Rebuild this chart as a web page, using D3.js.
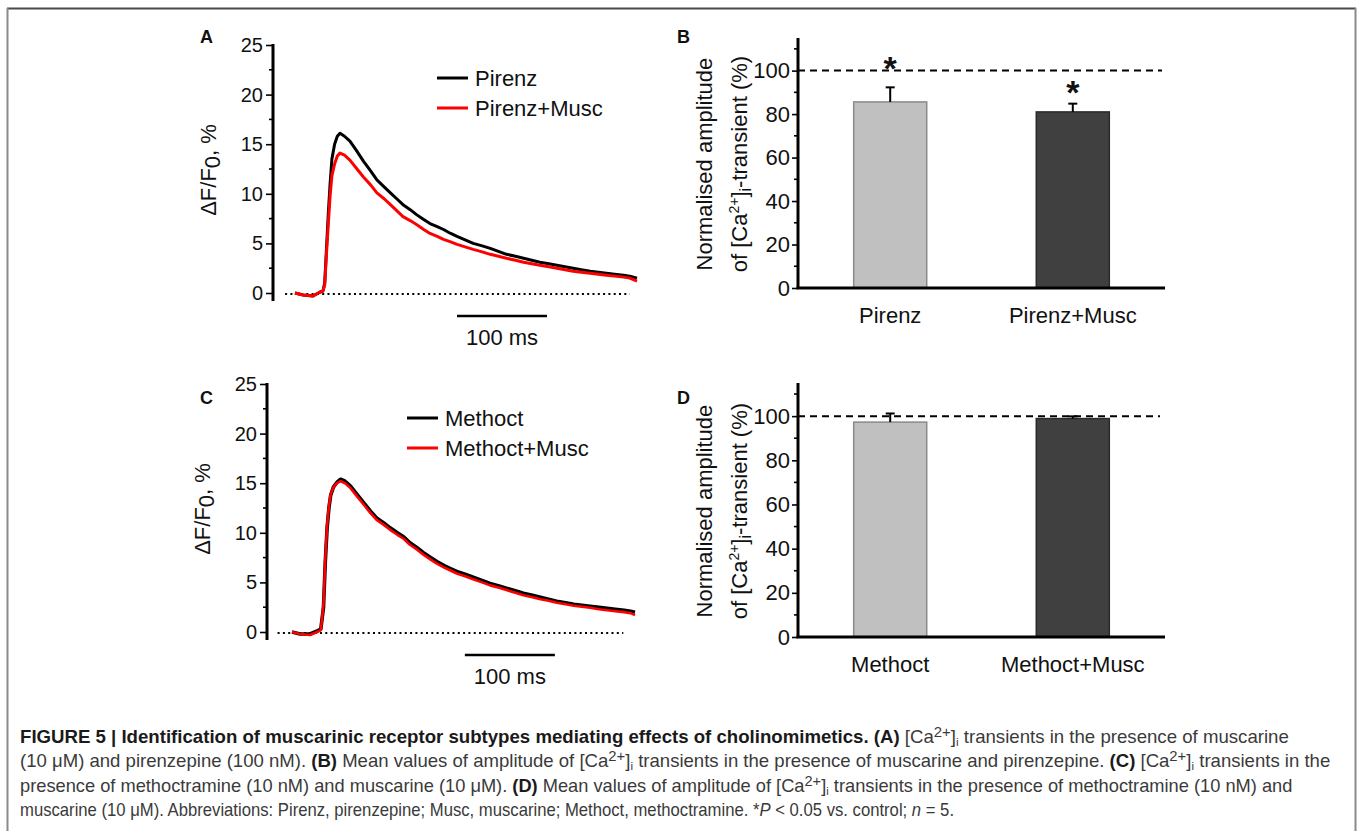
<!DOCTYPE html>
<html><head><meta charset="utf-8">
<script src="https://cdn.jsdelivr.net/npm/d3@7"></script>
<style>
body{margin:0;background:#fff}
svg{display:block}
text{font-family:"Liberation Sans",Arial,Helvetica,sans-serif}
</style>
</head><body>
<svg id="c" width="1358" height="831"></svg>
<script>
// ---------------- DATA ----------------
const traceYTicks = [0, 5, 10, 15, 20, 25];
const traceYMinor = [2.5, 7.5, 12.5, 17.5, 22.5];
const barYTicks = [0, 20, 40, 60, 80, 100];
const barYMinor = [10, 30, 50, 70, 90, 110];

// Panel A: time (ms) and ΔF/F0 (%)
const timeA = [0,9,20,28,31,33,35,37,39,41,44,47,50,55,61,68,76,84,91,99,106,113,120,128,135,143,150,158,165,173,180,189,198,208,217,226,235,245,254,263,272,282,291,300,309,318,328,337,346,355,365,372,380];
const pirenz = [0,-0.2,-0.3,0.1,0.2,1.0,4.5,8.0,11.0,13.5,15.0,15.8,16.1,15.8,15.3,14.4,13.3,12.3,11.4,10.7,10.1,9.5,8.9,8.4,7.9,7.4,7.0,6.7,6.4,6.0,5.7,5.35,5.0,4.75,4.5,4.2,3.9,3.7,3.5,3.3,3.1,2.95,2.8,2.65,2.5,2.35,2.2,2.1,2.0,1.9,1.8,1.7,1.5];
const pirenzMusc = [0,-0.2,-0.3,0.1,0.2,0.8,4.0,7.0,9.8,11.8,13.0,13.8,14.1,13.9,13.4,12.6,11.7,10.9,10.1,9.5,8.9,8.3,7.7,7.3,6.9,6.4,6.0,5.7,5.4,5.15,4.9,4.65,4.4,4.15,3.9,3.7,3.5,3.3,3.1,2.95,2.8,2.65,2.5,2.35,2.2,2.1,2.0,1.9,1.8,1.7,1.6,1.5,1.2];
const legendA = ["Pirenz", "Pirenz+Musc"];

// Panel C
const timeC = [0,9,20,28,32,35,37,39,41,43,46,50,54,59,65,72,80,87,94,102,109,117,124,131,139,146,154,161,169,176,183,193,202,211,220,230,239,248,257,267,276,285,294,304,313,322,331,341,350,359,369,376,381];
const methoct = [0,-0.2,-0.2,0.1,0.3,2.5,7.1,10.5,12.5,13.8,14.6,15.1,15.4,15.2,14.7,13.9,13.0,12.2,11.5,11.0,10.5,10.0,9.6,9.0,8.5,8.0,7.5,7.1,6.7,6.4,6.1,5.8,5.5,5.2,4.9,4.65,4.4,4.15,3.9,3.7,3.5,3.3,3.1,2.95,2.8,2.7,2.6,2.5,2.4,2.3,2.2,2.1,2.0];
const methoctMusc = [0,-0.2,-0.3,0.0,0.2,2.8,7.4,10.8,12.7,13.9,14.6,15.0,15.2,15.0,14.5,13.7,12.8,12.0,11.3,10.8,10.3,9.8,9.4,8.8,8.3,7.8,7.3,6.9,6.5,6.2,5.9,5.6,5.3,5.0,4.7,4.45,4.2,3.95,3.7,3.5,3.3,3.15,2.95,2.8,2.65,2.55,2.45,2.3,2.2,2.1,2.0,1.9,1.7];
const legendC = ["Methoct", "Methoct+Musc"];

// Panel B
const catsB = ["Pirenz", "Pirenz+Musc"];
const meanB = [85.6, 81.0];
const errB = [6.7, 3.8];
const sigB = [true, true];
const sigLevelB = [104.6, 93.5];

// Panel D
const catsD = ["Methoct", "Methoct+Musc"];
const meanD = [97.3, 98.9];
const errD = [3.9, 1.0];

const controlLevel = 100;
const scaleBarMs = 100;

// ---------------- DRAW ----------------
const svg = d3.select("#c");
const barFills = ["#c0c0c0", "#404040"];
const barStrokes = ["#8a8a8a", "#2a2a2a"];
const traceColors = ["#000000", "#ff0000"];

// frame
svg.append("line").attr("x1", 7).attr("x2", 1356).attr("y1", 8.5).attr("y2", 8.5).attr("stroke", "#4a4a4a").attr("stroke-width", 2);
svg.append("line").attr("x1", 7.5).attr("x2", 7.5).attr("y1", 8).attr("y2", 831).attr("stroke", "#8a8a8a").attr("stroke-width", 2);
svg.append("line").attr("x1", 1355.5).attr("x2", 1355.5).attr("y1", 8).attr("y2", 831).attr("stroke", "#8a8a8a").attr("stroke-width", 2);

function panelLabel(txt, x, y) {
  svg.append("text").attr("x", x).attr("y", y).text(txt)
    .style("font-size", "18px").style("font-weight", "bold").attr("fill", "#111");
}

function tracePanel(cfg) {
  const g = svg.append("g");
  const x = d3.scaleLinear().domain(cfg.tDomain).range(cfg.xRange);
  const y = d3.scaleLinear().domain([0, 25]).range(cfg.yRange);

  // dotted zero line
  g.append("line").attr("x1", x(cfg.zeroFrom)).attr("x2", x(cfg.zeroTo))
    .attr("y1", y(0) + 1).attr("y2", y(0) + 1)
    .attr("stroke", "#000").attr("stroke-width", 2).attr("stroke-dasharray", "2,3.3");

  // axis
  const ax = d3.axisLeft(y).tickValues(traceYTicks).tickSize(7).tickPadding(3).tickFormat(d3.format("d"));
  const ga = g.append("g").attr("transform", `translate(${cfg.axisX},0)`).call(ax);
  ga.select(".domain").remove();
  ga.selectAll(".tick line").attr("stroke", "#000").attr("stroke-width", 1.6);
  ga.selectAll(".tick text").attr("font-size", 20).attr("fill", "#111")
    .attr("font-family", '"Liberation Sans",Arial,sans-serif');
  ga.selectAll(".minor").data(traceYMinor).enter().append("line")
    .attr("x1", -4).attr("x2", 0).attr("y1", d => y(d)).attr("y2", d => y(d))
    .attr("stroke", "#000").attr("stroke-width", 1.6);
  g.append("line").attr("x1", cfg.axisX).attr("x2", cfg.axisX)
    .attr("y1", y(25) - 1).attr("y2", y(0) + 8)
    .attr("stroke", "#000").attr("stroke-width", 3);

  // y label
  const yl = g.append("text").attr("transform", `translate(${cfg.axisX - 57},${y(12.5) + 1}) rotate(-90)`)
    .attr("text-anchor", "middle").attr("font-size", 22).attr("fill", "#111");
  yl.append("tspan").text("\u0394F/F");
  yl.append("tspan").text("0").attr("baseline-shift", "-18%");
  yl.append("tspan").text(", %");

  // traces
  const line = d3.line().x((d, i) => x(cfg.time[i])).y(d => y(d));
  cfg.series.forEach((s, k) => {
    g.append("path").datum(s).attr("d", line).attr("fill", "none")
      .attr("stroke", traceColors[k]).attr("stroke-width", k === 0 ? cfg.w0 : cfg.w1)
      .attr("stroke-linejoin", "round");
  });

  // legend
  cfg.legend.forEach((name, k) => {
    const ly = cfg.legendY + k * 30;
    g.append("line").attr("x1", cfg.legendX).attr("x2", cfg.legendX + 31)
      .attr("y1", ly).attr("y2", ly).attr("stroke", traceColors[k]).attr("stroke-width", 3);
    g.append("text").attr("x", cfg.legendX + 38).attr("y", ly + 8).text(name)
      .attr("font-size", 22).attr("fill", "#111");
  });

  // scale bar
  const sbY = y(0) + 23;
  g.append("line").attr("x1", x(cfg.sbStart)).attr("x2", x(cfg.sbStart + scaleBarMs))
    .attr("y1", sbY).attr("y2", sbY).attr("stroke", "#000").attr("stroke-width", 2.5);
  g.append("text").attr("x", (x(cfg.sbStart) + x(cfg.sbStart + scaleBarMs)) / 2).attr("y", sbY + 29)
    .attr("text-anchor", "middle").attr("font-size", 22).attr("fill", "#111").text(scaleBarMs + " ms");
}

function barPanel(cfg) {
  const g = svg.append("g");
  const y = d3.scaleLinear().domain([0, 115]).range(cfg.yRange);
  const x = d3.scaleBand().domain(cfg.cats).range([cfg.axisX, cfg.xEnd]).paddingInner(0.6).paddingOuter(0.305);

  g.selectAll(".bar").data(cfg.mean).enter().append("rect")
    .attr("x", (d, i) => x(cfg.cats[i])).attr("width", x.bandwidth())
    .attr("y", d => y(d)).attr("height", d => y(0) - y(d))
    .attr("fill", (d, i) => barFills[i]).attr("stroke", (d, i) => barStrokes[i]).attr("stroke-width", 1.5);

  // control line
  g.append("line").attr("x1", cfg.axisX).attr("x2", cfg.dashEnd).attr("y1", y(controlLevel)).attr("y2", y(controlLevel))
    .attr("stroke", "#000").attr("stroke-width", 2).attr("stroke-dasharray", "7,5");

  // error bars
  cfg.mean.forEach((m, i) => {
    const cx = x(cfg.cats[i]) + x.bandwidth() / 2;
    g.append("line").attr("x1", cx).attr("x2", cx).attr("y1", y(m)).attr("y2", y(m + cfg.err[i]))
      .attr("stroke", "#000").attr("stroke-width", 2);
    g.append("line").attr("x1", cx - 4.5).attr("x2", cx + 4.5).attr("y1", y(m + cfg.err[i])).attr("y2", y(m + cfg.err[i]))
      .attr("stroke", "#000").attr("stroke-width", 2);
    if (cfg.sig && cfg.sig[i]) {
      g.append("text").attr("x", cx).attr("y", y(cfg.sigLevel[i]) + 19).attr("text-anchor", "middle")
        .attr("font-size", 34).attr("font-weight", "bold").attr("fill", "#111").text("*");
    }
  });

  // axes
  const ax = d3.axisLeft(y).tickValues(barYTicks).tickSize(6).tickPadding(2).tickFormat(d3.format("d"));
  const ga = g.append("g").attr("transform", `translate(${cfg.axisX},0)`).call(ax);
  ga.select(".domain").remove();
  ga.selectAll(".tick line").attr("stroke", "#000").attr("stroke-width", 1.6);
  ga.selectAll(".tick text").attr("font-size", 22).attr("fill", "#111")
    .attr("font-family", '"Liberation Sans",Arial,sans-serif');
  ga.selectAll(".minor").data(barYMinor).enter().append("line")
    .attr("x1", -4).attr("x2", 0).attr("y1", d => y(d)).attr("y2", d => y(d))
    .attr("stroke", "#000").attr("stroke-width", 1.6);
  g.append("line").attr("x1", cfg.axisX).attr("x2", cfg.axisX).attr("y1", y(115)).attr("y2", y(0) + 1)
    .attr("stroke", "#000").attr("stroke-width", 3);
  g.append("line").attr("x1", cfg.axisX - 1.5).attr("x2", cfg.xEnd).attr("y1", y(0)).attr("y2", y(0))
    .attr("stroke", "#000").attr("stroke-width", 3);

  // category labels
  cfg.cats.forEach(c => {
    g.append("text").attr("x", x(c) + x.bandwidth() / 2).attr("y", y(0) + 35).attr("text-anchor", "middle")
      .attr("font-size", 22).attr("fill", "#111").text(c);
  });

  // y label (two lines)
  const cy = y(57);
  g.append("text").attr("transform", `translate(${cfg.axisX - 86},${cy}) rotate(-90)`)
    .attr("text-anchor", "middle").attr("font-size", 22).attr("fill", "#111").text("Normalised amplitude");
  const l2 = g.append("text").attr("transform", `translate(${cfg.axisX - 51},${cy}) rotate(-90)`)
    .attr("text-anchor", "middle").attr("font-size", 22).attr("fill", "#111");
  l2.append("tspan").text("of [Ca");
  l2.append("tspan").text("2+").attr("font-size", 14).attr("baseline-shift", "55%");
  l2.append("tspan").text("]");
  l2.append("tspan").text("i").attr("font-size", 16).attr("baseline-shift", "-25%");
  l2.append("tspan").text("-transient (%)");
}

panelLabel("A", 200, 43);
panelLabel("B", 677, 43);
panelLabel("C", 200, 404);
panelLabel("D", 677, 404);

tracePanel({axisX: 273, yRange: [293, 45], tDomain: [0, 380], xRange: [295, 637],
  zeroFrom: -11, zeroTo: 372, time: timeA, series: [pirenz, pirenzMusc], w0: 3, w1: 3,
  legend: legendA, legendX: 437, legendY: 78, sbStart: 180});
tracePanel({axisX: 267, yRange: [632, 384], tDomain: [0, 381], xRange: [292, 635],
  zeroFrom: -16, zeroTo: 368, time: timeC, series: [methoct, methoctMusc], w0: 3.6, w1: 2.6,
  legend: legendC, legendX: 407, legendY: 418, sbStart: 192});

barPanel({axisX: 798, xEnd: 1165, dashEnd: 1162, yRange: [288, 38], cats: catsB, mean: meanB, err: errB, sig: sigB, sigLevel: sigLevelB});
barPanel({axisX: 798, xEnd: 1165, dashEnd: 1160, yRange: [637, 383], cats: catsD, mean: meanD, err: errD});

// ---------------- CAPTION ----------------
const captionLines = [
  [["FIGURE 5 | Identification of muscarinic receptor subtypes mediating effects of cholinomimetics. (A) ", "b"], ["[Ca"], ["2+", "sup"], ["]"], ["i", "sub"], [" transients in the presence of muscarine"]],
  [["(10 \u03bcM) and pirenzepine (100 nM). "], ["(B)", "b"], [" Mean values of amplitude of [Ca"], ["2+", "sup"], ["]"], ["i", "sub"], [" transients in the presence of muscarine and pirenzepine. "], ["(C)", "b"], [" [Ca"], ["2+", "sup"], ["]"], ["i", "sub"], [" transients in the"]],
  [["presence of methoctramine (10 nM) and muscarine (10 \u03bcM). "], ["(D)", "b"], [" Mean values of amplitude of [Ca"], ["2+", "sup"], ["]"], ["i", "sub"], [" transients in the presence of methoctramine (10 nM) and"]],
  [["muscarine (10 \u03bcM). Abbreviations: Pirenz, pirenzepine; Musc, muscarine; Methoct, methoctramine. *"], ["P", "it"], [" < 0.05 vs. control; "], ["n", "it"], [" = 5."]]
];
const captionEnds = [1290, 1331, 1293, 955];
const captionX = 20;
captionLines.forEach((segs, li) => {
  const t = svg.append("text").attr("x", 0).attr("y", 0)
    .attr("font-size", 17.5).attr("fill", "#3a3a3a")
    .style("font-family", '"Liberation Sans Narrow","Arial Narrow","Liberation Sans",Arial,sans-serif');
  segs.forEach(([s, st]) => {
    const ts = t.append("tspan").text(s);
    if (st === "b") ts.attr("font-weight", "bold").attr("fill", "#1a1a1a");
    if (st === "sup") ts.attr("font-size", 14).attr("baseline-shift", "45%");
    if (st === "sub") ts.attr("font-size", 11).attr("baseline-shift", "-25%");
    if (st === "it") ts.attr("font-style", "italic");
  });
  const w = t.node().getComputedTextLength();
  const sx = (captionEnds[li] - captionX) / w;
  t.attr("transform", `translate(${captionX},${743 + li * 24.3}) scale(${sx},1)`);
});
</script>
</body></html>
